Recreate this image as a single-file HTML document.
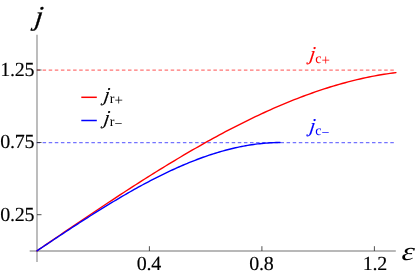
<!DOCTYPE html>
<html><head><meta charset="utf-8"><style>
html,body{margin:0;padding:0;background:#fff;}
svg{display:block;will-change:transform;}
text{text-rendering:geometricPrecision;}
text{font-family:"Liberation Serif",serif;}
.it{font-style:italic;}
</style></head><body>
<svg width="415" height="276" viewBox="0 0 415 276">
<rect width="415" height="276" fill="#fff"/>
<!-- dashed -->
<line x1="36.5" y1="70.0" x2="394.2" y2="70.0" stroke="#ff0000" stroke-opacity="0.55" stroke-width="1.25" stroke-dasharray="3.5 2.6"/>
<line x1="36.5" y1="142.5" x2="394.2" y2="142.5" stroke="#0000ff" stroke-opacity="0.55" stroke-width="1.25" stroke-dasharray="3.5 2.6"/>
<!-- axes -->
<line x1="37" y1="34.8" x2="37" y2="262" stroke="#666" stroke-opacity="0.62" stroke-width="1.4"/>
<line x1="29.7" y1="251.0" x2="395.8" y2="251.0" stroke="#666" stroke-opacity="0.62" stroke-width="1.4"/>
<!-- ticks -->
<g stroke="#333" stroke-width="0.85">
<line x1="149.4" y1="251" x2="149.4" y2="246.2"/>
<line x1="261.9" y1="251" x2="261.9" y2="246.2"/>
<line x1="374.4" y1="251" x2="374.4" y2="246.2"/>
<line x1="37" y1="214.7" x2="41.5" y2="214.7"/>
<line x1="37" y1="142.5" x2="41.5" y2="142.5"/>
<line x1="37" y1="70.0" x2="41.5" y2="70.0"/>
</g>
<!-- curves -->
<path d="M37.00,250.80 L39.99,248.76 L42.98,246.71 L45.97,244.67 L48.97,242.63 L51.96,240.58 L54.95,238.54 L57.94,236.50 L60.93,234.47 L63.92,232.43 L66.91,230.40 L69.90,228.37 L72.90,226.34 L75.89,224.31 L78.88,222.29 L81.87,220.27 L84.86,218.25 L87.85,216.24 L90.84,214.23 L93.83,212.23 L96.83,210.23 L99.82,208.23 L102.81,206.24 L105.80,204.26 L108.79,202.28 L111.78,200.30 L114.77,198.34 L117.76,196.37 L120.76,194.42 L123.75,192.47 L126.74,190.53 L129.73,188.59 L132.72,186.66 L135.71,184.74 L138.70,182.83 L141.69,180.92 L144.69,179.03 L147.68,177.14 L150.67,175.26 L153.66,173.38 L156.65,171.52 L159.64,169.67 L162.63,167.83 L165.62,165.99 L168.62,164.17 L171.61,162.36 L174.60,160.55 L177.59,158.76 L180.58,156.98 L183.57,155.21 L186.56,153.45 L189.55,151.70 L192.55,149.97 L195.54,148.25 L198.53,146.54 L201.52,144.84 L204.51,143.15 L207.50,141.48 L210.49,139.82 L213.48,138.18 L216.48,136.54 L219.47,134.93 L222.46,133.32 L225.45,131.73 L228.44,130.16 L231.43,128.60 L234.42,127.06 L237.41,125.53 L240.41,124.01 L243.40,122.52 L246.39,121.04 L249.38,119.57 L252.37,118.12 L255.36,116.69 L258.35,115.28 L261.34,113.88 L264.34,112.50 L267.33,111.14 L270.32,109.79 L273.31,108.47 L276.30,107.16 L279.29,105.87 L282.28,104.60 L285.27,103.35 L288.27,102.12 L291.26,100.90 L294.25,99.71 L297.24,98.54 L300.23,97.39 L303.22,96.26 L306.21,95.14 L309.21,94.05 L312.20,92.99 L315.19,91.94 L318.18,90.91 L321.17,89.91 L324.16,88.93 L327.15,87.97 L330.14,87.03 L333.14,86.12 L336.13,85.23 L339.12,84.36 L342.11,83.52 L345.10,82.70 L348.09,81.90 L351.08,81.13 L354.07,80.38 L357.07,79.66 L360.06,78.96 L363.05,78.29 L366.04,77.64 L369.03,77.02 L372.02,76.43 L375.01,75.86 L378.00,75.31 L381.00,74.80 L383.99,74.31 L386.98,73.84 L389.97,73.41 L392.96,73.00 L395.95,72.62" fill="none" stroke="#ff0000" stroke-width="1.4" stroke-linecap="round" stroke-linejoin="round"/>
<path d="M37.00,250.80 L39.03,249.45 L41.05,248.10 L43.08,246.75 L45.10,245.41 L47.13,244.06 L49.15,242.71 L51.18,241.37 L53.21,240.02 L55.23,238.68 L57.26,237.34 L59.28,236.00 L61.31,234.66 L63.34,233.33 L65.36,232.00 L67.39,230.67 L69.41,229.34 L71.44,228.02 L73.46,226.70 L75.49,225.38 L77.52,224.07 L79.54,222.76 L81.57,221.45 L83.59,220.15 L85.62,218.85 L87.65,217.56 L89.67,216.27 L91.70,214.99 L93.72,213.71 L95.75,212.43 L97.77,211.17 L99.80,209.90 L101.83,208.65 L103.85,207.40 L105.88,206.15 L107.90,204.91 L109.93,203.68 L111.96,202.46 L113.98,201.24 L116.01,200.03 L118.03,198.82 L120.06,197.63 L122.08,196.44 L124.11,195.26 L126.14,194.08 L128.16,192.92 L130.19,191.76 L132.21,190.61 L134.24,189.47 L136.26,188.34 L138.29,187.22 L140.32,186.11 L142.34,185.01 L144.37,183.92 L146.39,182.83 L148.42,181.76 L150.45,180.70 L152.47,179.65 L154.50,178.61 L156.52,177.57 L158.55,176.55 L160.57,175.55 L162.60,174.55 L164.63,173.56 L166.65,172.59 L168.68,171.63 L170.70,170.68 L172.73,169.74 L174.76,168.81 L176.78,167.90 L178.81,167.00 L180.83,166.12 L182.86,165.24 L184.88,164.38 L186.91,163.54 L188.94,162.70 L190.96,161.88 L192.99,161.08 L195.01,160.29 L197.04,159.51 L199.06,158.75 L201.09,158.01 L203.12,157.28 L205.14,156.56 L207.17,155.86 L209.19,155.17 L211.22,154.51 L213.25,153.85 L215.27,153.22 L217.30,152.60 L219.32,151.99 L221.35,151.41 L223.37,150.84 L225.40,150.28 L227.43,149.75 L229.45,149.23 L231.48,148.73 L233.50,148.24 L235.53,147.78 L237.56,147.33 L239.58,146.91 L241.61,146.50 L243.63,146.11 L245.66,145.73 L247.68,145.38 L249.71,145.05 L251.74,144.74 L253.76,144.44 L255.79,144.17 L257.81,143.91 L259.84,143.68 L261.87,143.47 L263.89,143.28 L265.92,143.10 L267.94,142.95 L269.97,142.82 L271.99,142.72 L274.02,142.63 L276.05,142.56 L278.07,142.52 L280.10,142.50" fill="none" stroke="#0000ff" stroke-width="1.4" stroke-linecap="round" stroke-linejoin="round"/>
<!-- tick labels -->
<g font-size="20" fill="#000" letter-spacing="-0.25" stroke="#000" stroke-width="0.15">
<text x="148.9" y="270.3" text-anchor="middle">0.4</text>
<text x="261.4" y="270.3" text-anchor="middle">0.8</text>
<text x="374.8" y="270.3" text-anchor="middle">1.2</text>
<text x="34.2" y="220.6" text-anchor="end">0.25</text>
<text x="34.2" y="148.4" text-anchor="end">0.75</text>
<text x="34.2" y="76.2" text-anchor="end">1.25</text>
</g>
<!-- axis labels -->
<text class="it" transform="translate(34.2,25.3) skewX(-7.5)" x="0" y="0" font-size="27.4" fill="#000" stroke="#000" stroke-width="0.4">j</text>
<text class="it" transform="translate(401.2,259.8) scale(1.16,0.92) skewX(-4)" x="0" y="0" font-size="28">ε</text>
<!-- legend -->
<line x1="81.3" y1="97.3" x2="96.8" y2="97.3" stroke="#ff0000" stroke-width="1.5"/>
<line x1="81.3" y1="120.5" x2="96.8" y2="120.5" stroke="#0000ff" stroke-width="1.5"/>
<text class="it" transform="translate(103.3,100.5) skewX(-9)" x="0" y="0" font-size="19.6" fill="#000" stroke="#000" stroke-width="0.12">j</text>
<text x="109.8" y="103" font-size="14" fill="#000">r<tspan dy="1.8" font-size="15">+</tspan></text>
<text class="it" transform="translate(103.3,123.6) skewX(-9)" x="0" y="0" font-size="19.6" fill="#000" stroke="#000" stroke-width="0.12">j</text>
<text x="109.8" y="126.2" font-size="14" fill="#000">r<tspan dy="1.8">−</tspan></text>
<text class="it" transform="translate(309.1,60.4) skewX(-8)" x="0" y="0" font-size="19.6" fill="#ff0000" stroke="#ff0000" stroke-width="0.12">j</text>
<text x="315.2" y="62.9" font-size="14" fill="#ff0000">c<tspan dy="1.8" font-size="15">+</tspan></text>
<text class="it" transform="translate(309.1,132.4) skewX(-8)" x="0" y="0" font-size="19.6" fill="#0000ff" stroke="#0000ff" stroke-width="0.12">j</text>
<text x="315.2" y="134.9" font-size="14" fill="#0000ff">c<tspan dy="1.8">−</tspan></text>
</svg>
</body></html>
